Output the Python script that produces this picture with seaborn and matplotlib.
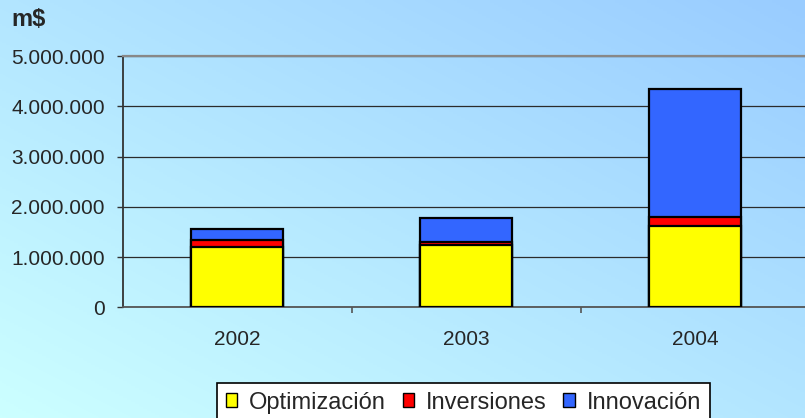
import numpy as np
import pandas as pd
import matplotlib
matplotlib.use("Agg")
import matplotlib.pyplot as plt
import matplotlib.colors as mcolors
from matplotlib.patches import Patch
from matplotlib.ticker import FuncFormatter, FixedLocator
import seaborn as sns

# ------------------------------------------
# Data (m$)
# ------------------------------------------
years = ["2002", "2003", "2004"]
optimizacion = [1190000, 1230000, 1620000]
inversiones = [150000, 70000, 170000]
innovacion = [210000, 480000, 2550000]

series_names = ["Optimización", "Inversiones", "Innovación"]
series_colors = ["#FFFF00", "#FF0000", "#3366FF"]

df = pd.DataFrame({
    "year": years,
    "opt": optimizacion,
    "inv": inversiones,
    "inn": innovacion,
})
# cumulative heights for the stacked look
df["lvl1"] = df["opt"]
df["lvl2"] = df["opt"] + df["inv"]
df["lvl3"] = df["opt"] + df["inv"] + df["inn"]

# ------------------------------------------
# Style
# ------------------------------------------
sns.set_style("white")
plt.rcParams["font.family"] = ["Liberation Sans", "DejaVu Sans"]
plt.rcParams["font.size"] = 15

fig = plt.figure(figsize=(8.05, 4.18), dpi=100)

# gradient background over the whole figure
bg = fig.add_axes([0, 0, 1, 1], zorder=0)
gx, gy = np.meshgrid(np.linspace(0, 1, 200), np.linspace(0, 1, 200))
t = (gx + (1 - gy)) / 2.0
cmap = mcolors.LinearSegmentedColormap.from_list("bg", ["#CCFFFF", "#99CCFF"])
bg.imshow(t, cmap=cmap, aspect="auto", extent=[0, 1, 0, 1], vmin=0, vmax=1)
bg.set_axis_off()

ax = fig.add_axes([122.7 / 805, 1 - 307.3 / 418, 1 - 122.7 / 805, (307.3 - 56) / 418], zorder=1)
ax.patch.set_alpha(0)

# draw tallest layer first, shorter layers on top
layers = [("lvl3", series_colors[2]), ("lvl2", series_colors[1]), ("lvl1", series_colors[0])]
for col, colr in layers:
    sns.barplot(data=df, x="year", y=col, color=colr, saturation=1, width=0.4,
                edgecolor="black", linewidth=1.6, ax=ax, zorder=3)

ax.set_xlim(-0.5, 2.48)
ax.set_ylim(0, 5000000)
ax.set_yticks(np.arange(0, 5000001, 1000000))
ax.yaxis.set_major_formatter(FuncFormatter(lambda v, p: f"{int(v):,}".replace(",", ".")))
ax.set_xlabel("")
ax.set_ylabel("")

ax.grid(axis="y", color="#2b2b2b", linewidth=0.9)
ax.grid(axis="x", visible=False)
ax.set_axisbelow(True)

ax.spines["right"].set_visible(False)
ax.spines["top"].set_color("#888888")
ax.spines["top"].set_linewidth(1.6)
ax.spines["left"].set_color("#333333")
ax.spines["left"].set_linewidth(1.3)
ax.spines["bottom"].set_color("#555555")
ax.spines["bottom"].set_linewidth(1.3)

ax.tick_params(axis="y", direction="out", length=4.5, width=1, color="#333333",
               pad=8.5, labelsize=15, left=True)
ax.tick_params(axis="x", which="major", length=0, pad=16, labelsize=15)
ax.xaxis.set_minor_locator(FixedLocator([0.5, 1.5]))
ax.tick_params(axis="x", which="minor", direction="out", length=4.5, width=1.2,
               color="#555555", bottom=True)

fig.text(11 / 805, 1 - 19.5 / 418, "m$", fontsize=17, fontweight="bold", va="center", ha="left")

handles = [Patch(facecolor=c, edgecolor="black", linewidth=1.0, label=n)
           for n, c in zip(series_names, series_colors)]
leg = fig.legend(handles=handles, loc="upper center", ncol=3,
                 bbox_to_anchor=(463.5 / 805, 1 - 383.3 / 418), borderaxespad=0,
                 frameon=True, fancybox=False, edgecolor="black", facecolor="white",
                 framealpha=1, fontsize=17, handlelength=0.5, handleheight=0.5,
                 handletextpad=0.5, columnspacing=0.7, borderpad=0.35)
leg.get_frame().set_linewidth(1.2)

fig.savefig("out.png", dpi=100)
